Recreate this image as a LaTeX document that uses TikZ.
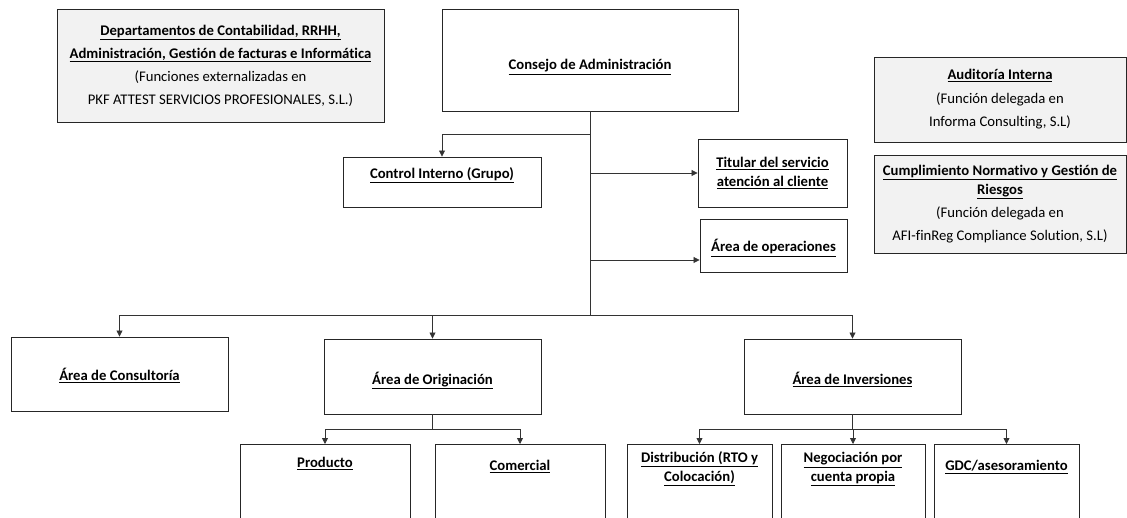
\documentclass[tikz,border=0pt]{standalone}
\usepackage{fontspec}
\setmainfont[Ligatures={NoCommon,NoRequired,NoContextual}]{Carlito}
\usetikzlibrary{arrows.meta}
\newcommand{\subr}[1]{\underline{\textbf{#1}}}

\begin{document}
\begin{tikzpicture}[x=1pt, y=-1pt,
    unit/.style={draw=black!85, line width=0.9pt, align=center, inner sep=2pt,
      font=\fontsize{14.7}{18.5}\selectfont},
    ext/.style={fill=black!5},
    low/.style={anchor=north, minimum height=100, text depth=70pt}]
  \clip (0,0) rectangle (1127,518);
  \begin{scope}[every node/.style={unit}]
    \node [ext, minimum width=327, minimum height=113] (dep) at (220.5,65.5)
      {\subr{Departamentos de Contabilidad, RRHH,}\\[4.5pt]
       \subr{Administración, Gestión de facturas e Informática}\\[4.5pt]
       (Funciones externalizadas en\\[4.5pt]
       PKF ATTEST SERVICIOS PROFESIONALES, S.L.)};
    \node [minimum width=296, minimum height=102, text height=24pt, text depth=4pt] (cons) at (590,60)
      {\subr{Consejo de Administración}};
    \node [ext, minimum width=252, minimum height=85] (aud) at (1000,99.5)
      {\subr{Auditoría Interna}\\[5pt]
       (Función delegada en\\[5pt]
       Informa Consulting, S.L)};
    \node [ext, minimum width=252, minimum height=98] (cum) at (1000,204)
      {\subr{Cumplimiento Normativo y Gestión de}\\
       \subr{Riesgos}\\[4.5pt]
       (Función delegada en\\[4.5pt]
       AFI-finReg Compliance Solution, S.L)};
    \node [minimum width=198, minimum height=50, text height=11pt, text depth=18pt] (ctrl) at (442,182)
      {\subr{Control Interno (Grupo)}};
    \node [minimum width=149, minimum height=68] (tit) at (772.5,173)
      {\subr{Titular del servicio}\\ \subr{atención al cliente}};
    \node [minimum width=147, minimum height=53, text height=17pt, text depth=4pt] (ops) at (773.5,245.5)
      {\subr{Área de operaciones}};
    \node [minimum width=217, minimum height=74, text height=17pt, text depth=4pt] (cons1) at (119.5,374)
      {\subr{Área de Consultoría}};
    \node [minimum width=217, minimum height=75, text height=20pt, text depth=4pt] (orig) at (432.5,376.5)
      {\subr{Área de Originación}};
    \node [minimum width=217, minimum height=75, text height=20pt, text depth=4pt] (inv) at (852.5,376.5)
      {\subr{Área de Inversiones}};
    \node [low, minimum width=170, text height=17pt] (prod) at (325,444)
      {\subr{Producto}};
    \node [low, minimum width=170, text height=23pt] (com) at (520,444)
      {\subr{Comercial}};
    \node [low, minimum width=145, text height=35pt] (dist) at (699.5,444)
      {\subr{Distribución (RTO y}\\ \subr{Colocación)}};
    \node [low, minimum width=144, text height=35pt] (neg) at (853,444)
      {\subr{Negociación por}\\ \subr{cuenta propia}};
    \node [low, minimum width=145, text height=23pt] (gdc) at (1006.5,444)
      {\subr{GDC/asesoramiento}};
  \end{scope}

  \coordinate (k1) at (cons.south |- 0,134);
  \coordinate (k2) at (cons.south |- 0,173);
  \coordinate (k3) at (cons.south |- 0,260);
  \coordinate (bus) at (cons.south |- 0,315);
  \coordinate (ob) at (orig.south |- 0,429);
  \coordinate (ib) at (inv.south |- 0,429);

  \begin{scope}[-{Triangle[length=6pt, width=6pt]}, draw=black!80, line width=0.8pt]
    \draw [-] (cons.south) to (bus);
    \draw (k1) -| (ctrl.north);
    \draw (k2) to (k2 -| tit.west);
    \draw (k3) to (k3 -| ops.west);
    \draw (bus) -| (cons1.north);
    \draw (bus) -| (orig.north);
    \draw (bus) -| (inv.north);
    \draw [-] (orig.south) to (ob);
    \draw (ob) -| (prod.north);
    \draw (ob) -| (com.north);
    \draw [-] (inv.south) to (ib);
    \draw (ib) -| (dist.north);
    \draw (ib) -| (neg.north);
    \draw (ib) -| (gdc.north);
  \end{scope}
\end{tikzpicture}
\end{document}
